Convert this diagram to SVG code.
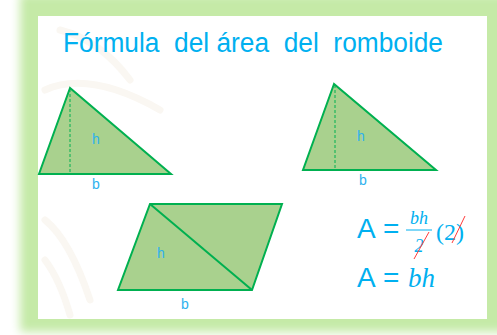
<svg xmlns="http://www.w3.org/2000/svg" width="497" height="335" viewBox="0 0 497 335">
  <defs>
    <filter id="glow" x="-10%" y="-10%" width="120%" height="120%">
      <feGaussianBlur stdDeviation="5"/>
    </filter>
    <style>
      .shape{fill:#a9d18e;stroke:#00b050;stroke-width:2;stroke-linejoin:miter}
      .dash{stroke:#00b050;stroke-width:1;stroke-dasharray:3,2;fill:none}
      .lbl{font-family:"Liberation Sans",Arial,sans-serif;font-size:14px;fill:#2eb2ee;text-anchor:middle}
      .title{font-family:"Liberation Sans",Arial,sans-serif;font-size:27px;fill:#00b0f0}
      .fa{font-family:"Liberation Sans",Arial,sans-serif;fill:#00b0f0}
      .fm{font-family:"Liberation Serif","DejaVu Serif",serif;font-style:italic;fill:#00b0f0}
      .fu{font-family:"Liberation Serif","DejaVu Serif",serif;font-style:normal;fill:#00b0f0}
      .slash{stroke:#ff3b3b;stroke-width:1}
      .wm{fill:none;stroke:#faf7f2;stroke-width:7;stroke-linecap:round}
    </style>
  </defs>
  <rect width="497" height="335" fill="#ffffff"/>
  <rect x="20" y="-6" width="492" height="338" fill="#c5eaa7" filter="url(#glow)"/>
  <rect x="38" y="16" width="449" height="303" fill="#ffffff"/>
  <g id="watermark">
    <path class="wm" d="M60 30 Q100 40 130 80"/>
    <path class="wm" d="M45 90 Q90 70 160 110"/>
    <path class="wm" d="M45 220 Q70 240 90 300"/>
    <path class="wm" d="M45 260 Q60 280 70 315"/>
  </g>
  <g id="title">
    <text class="title" x="63" y="52" xml:space="preserve" textLength="380" lengthAdjust="spacingAndGlyphs">Fórmula  del área  del  romboide</text>
  </g>
  <g id="triangle-left">
    <polygon class="shape" points="70,88 39,174 171,174"/>
    <line class="dash" x1="70" y1="89" x2="70" y2="174"/>
    <text class="lbl" x="96" y="144">h</text>
    <text class="lbl" x="96" y="189">b</text>
  </g>
  <g id="triangle-right">
    <polygon class="shape" points="334,84 303,170 436,170"/>
    <line class="dash" x1="335" y1="85" x2="335" y2="170"/>
    <text class="lbl" x="361" y="141">h</text>
    <text class="lbl" x="363" y="185">b</text>
  </g>
  <g id="parallelogram">
    <polygon class="shape" points="150,204 282,204 252,290 118,290"/>
    <line x1="150" y1="204" x2="252" y2="290" stroke="#00b050" stroke-width="2"/>
    <text class="lbl" x="161" y="258">h</text>
    <text class="lbl" x="185" y="309">b</text>
  </g>
  <g id="formula">
    <text class="fa" x="357" y="238" font-size="28">A</text>
    <text class="fa" x="383" y="238" font-size="28">=</text>
    <text class="fm" x="419" y="224" font-size="18" text-anchor="middle">bh</text>
    <line x1="406" y1="230" x2="432" y2="230" stroke="#00b0f0" stroke-width="1"/>
    <text class="fm" x="419" y="252" font-size="18" text-anchor="middle">2</text>
    <line class="slash" x1="414" y1="259" x2="429" y2="232"/>
    <text class="fu" x="436" y="240" font-size="24">(2)</text>
    <line class="slash" x1="452" y1="243" x2="465" y2="216"/>
    <text class="fa" x="357" y="287" font-size="28">A</text>
    <text class="fa" x="383" y="287" font-size="28">=</text>
    <text class="fm" x="408" y="287" font-size="27">bh</text>
  </g>
</svg>
